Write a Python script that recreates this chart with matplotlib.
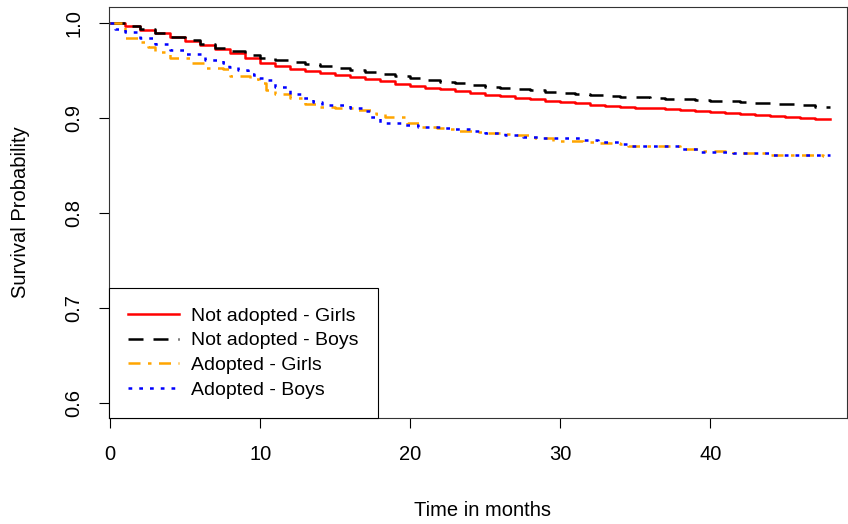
import numpy as np
import matplotlib
matplotlib.use("Agg")
import matplotlib.pyplot as plt

plt.rcParams['font.family'] = ['Liberation Sans', 'DejaVu Sans']

# Kaplan-Meier step curves
t_end = 48

t_na_girls = [0, 1, 2, 3, 4, 5, 6, 7, 8, 9, 10, 11, 12, 13, 14, 15, 16, 17, 18, 19,
              20, 21, 22, 23, 24, 25, 26, 27, 28, 29, 30, 31, 32, 33, 34, 35, 36, 37,
              38, 39, 40, 41, 42, 43, 44, 45, 46, 47]
s_na_girls = [1.0, 0.997, 0.993, 0.989, 0.985, 0.981, 0.977, 0.973, 0.968, 0.963,
              0.958, 0.955, 0.952, 0.949, 0.947, 0.945, 0.943, 0.941, 0.939, 0.936,
              0.934, 0.932, 0.930, 0.928, 0.926, 0.924, 0.923, 0.921, 0.920, 0.918,
              0.917, 0.916, 0.914, 0.913, 0.912, 0.911, 0.910, 0.909, 0.908, 0.907,
              0.906, 0.905, 0.904, 0.903, 0.902, 0.901, 0.900, 0.899]

t_na_boys = [0, 1, 2, 3, 4, 5, 6, 7, 8, 9, 10, 11, 12, 13, 14, 15, 16, 17, 18, 19,
             20, 21, 22, 23, 24, 25, 26, 27, 28, 29, 30, 31, 32, 33, 34, 36, 37,
             39, 40, 42, 43, 44, 46, 47]
s_na_boys = [1.0, 0.997, 0.994, 0.989, 0.985, 0.982, 0.978, 0.974, 0.970, 0.966,
             0.963, 0.961, 0.959, 0.957, 0.955, 0.953, 0.951, 0.948, 0.946, 0.944,
             0.942, 0.940, 0.938, 0.937, 0.935, 0.933, 0.932, 0.930, 0.929, 0.927,
             0.926, 0.925, 0.924, 0.923, 0.922, 0.921, 0.920, 0.919, 0.918, 0.917,
             0.916, 0.915, 0.914, 0.912]

t_ad_girls = [0, 1.0, 2.0, 2.5, 3.0, 4.0, 5.3, 6.3, 7.5, 8.0, 9.3, 9.9, 10.4, 11.0,
              12.0, 13.0, 14.0, 15.0, 16.5, 17.7, 18.3, 19.8, 20.8, 21.8, 22.5, 23.2,
              24.3, 25.0, 26.2, 27.0, 28.3, 29.5, 31.5, 32.5, 34.0, 34.5, 35.7, 38.0,
              39.2, 41.5, 43.8, 47.5]
s_ad_girls = [1.0, 0.984, 0.980, 0.975, 0.969, 0.963, 0.958, 0.953, 0.952, 0.944,
              0.941, 0.937, 0.929, 0.925, 0.921, 0.915, 0.912, 0.910, 0.908, 0.904,
              0.901, 0.895, 0.891, 0.889, 0.888, 0.886, 0.885, 0.884, 0.883, 0.882,
              0.879, 0.876, 0.875, 0.874, 0.873, 0.871, 0.870, 0.867, 0.865, 0.863,
              0.861, 0.860]

t_ad_boys = [0, 0.3, 1.0, 2.0, 3.0, 4.0, 5.0, 6.3, 7.5, 7.9, 8.5, 9.2, 9.6, 10.2,
             11.0, 12.0, 12.8, 13.5, 14.1, 16.0, 16.8, 17.3, 18.0, 19.5, 20.5, 22.0,
             23.0, 24.0, 25.0, 26.3, 27.5, 28.5, 31.5, 32.5, 34.0, 34.5, 35.7, 38.0,
             39.2, 41.5, 44.0, 47.5]
s_ad_boys = [1.0, 0.994, 0.990, 0.984, 0.978, 0.972, 0.967, 0.961, 0.958, 0.954,
             0.950, 0.946, 0.942, 0.940, 0.933, 0.925, 0.921, 0.917, 0.914, 0.910,
             0.907, 0.901, 0.895, 0.893, 0.890, 0.889, 0.888, 0.886, 0.884, 0.882,
             0.880, 0.879, 0.877, 0.875, 0.873, 0.871, 0.870, 0.867, 0.864, 0.863,
             0.861, 0.861]

labels = ['Not adopted - Girls', 'Not adopted - Boys', 'Adopted - Girls', 'Adopted - Boys']
x_ticks = [0, 10, 20, 30, 40]
y_ticks = [0.6, 0.7, 0.8, 0.9, 1.0]

fig = plt.figure(figsize=(8.48, 5.24), dpi=100)
ax = fig.add_axes([109 / 848, 1 - 418 / 524, (847 - 109) / 848, (418 - 7) / 524])

series = [
    (t_na_girls, s_na_girls, 'red', '-', None),
    (t_na_boys, s_na_boys, 'black', '--', (6, 4)),
    (t_ad_girls, s_ad_girls, 'orange', '-.', (4.8, 3, 1.4, 3)),
    (t_ad_boys, s_ad_boys, 'blue', ':', (1.5, 2.8)),
]
for (t, s, col, ls, dashes), lab in zip(series, labels):
    tt = np.append(t, t_end)
    ss = np.append(s, s[-1])
    line, = ax.step(tt, ss, where='post', color=col, lw=1.8, linestyle=ls, label=lab)
    if dashes is not None:
        line.set_dashes(dashes)

ax.set_xlim(-0.07, 49.1)
ax.set_ylim(0.5842, 1.0168)
ax.set_xticks(x_ticks)
ax.set_xticklabels([str(v) for v in x_ticks])
ax.set_yticks(y_ticks)
ax.set_yticklabels([f'{v:.1f}' for v in y_ticks], rotation=90, va='center')
ax.tick_params(axis='both', direction='out', length=7.2, width=0.8, labelsize=14.5)
ax.tick_params(axis='x', pad=12)
ax.tick_params(axis='y', pad=11)
for sp in ax.spines.values():
    sp.set_linewidth(0.8)
    sp.set_color('#333333')

leg = ax.legend(loc='lower left', bbox_to_anchor=(0, 0), borderaxespad=0,
                fontsize=14, handlelength=2.6, handletextpad=0.6,
                labelspacing=0.36, borderpad=1.0, fancybox=False,
                edgecolor='black', framealpha=1)
leg.get_frame().set_linewidth(0.8)

fig.text(483 / 848, 1 - 510 / 524, 'Time in months', ha='center', va='center', fontsize=14.5)
fig.text(21 / 848, 1 - 212 / 524, 'Survival Probability', ha='center', va='center',
         rotation=90, fontsize=14.5)

fig.savefig('out.png', dpi=100)
